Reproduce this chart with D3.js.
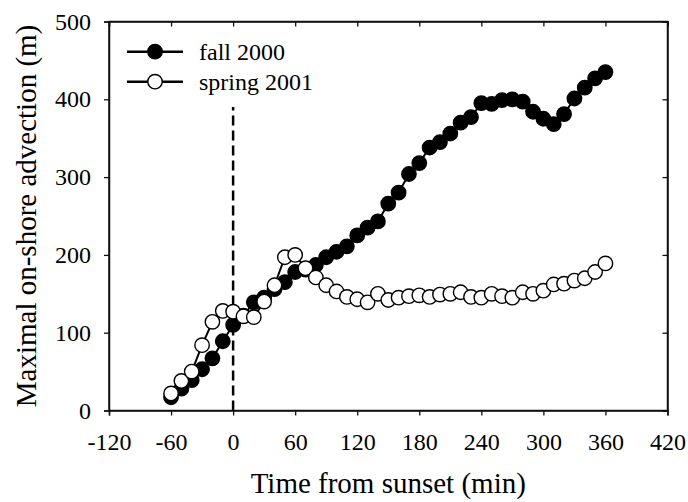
<!DOCTYPE html>
<html><head><meta charset="utf-8">
<script src="https://cdn.jsdelivr.net/npm/d3@7"></script>
<style>body{margin:0;background:#fff}</style>
</head><body>
<svg id="c" width="688" height="502"></svg>
<script>
const times = [-60,-50,-40,-30,-20,-10,0,10,20,30,40,50,60,70,80,90,100,110,120,130,140,150,160,170,180,190,200,210,220,230,240,250,260,270,280,290,300,310,320,330,340,350,360];
const fall2000 = [17,28,39,53,67,89,110,122,139,145,156,165,178,181,187,197,204,211,225,235,243,266,280,304,318,338,345,356,370,377,395,394,399,400,397,384,375,368,381,401,415,427,435];
const spring2001 = [22,38,50,84,114,128,127,121,120,140,161,197,200,183,171,161,153,146,143,139,150,142,145,147,148,146,149,150,152,146,145,150,147,145,152,150,154,162,163,167,170,178,189];
const xTicks = [-120,-60,0,60,120,180,240,300,360,420];
const yTicks = [0,100,200,300,400,500];
const seriesNames = ["fall 2000","spring 2001"];
const sunsetLineTop = 390;

const svg = d3.select("#c");
const x = d3.scaleLinear().domain([-120,420]).range([109,667.5]);
const y = d3.scaleLinear().domain([0,500]).range([410.5,21.5]);
const font = "'Liberation Serif','Times New Roman',serif";
const ink = "#111";
const fmt = d => String(d);

// frame
svg.append("rect").attr("x",x(-120)).attr("y",y(500)).attr("width",x(420)-x(-120)).attr("height",y(0)-y(500))
  .attr("fill","none").attr("stroke",ink).attr("stroke-width",1.5);

// bottom axis
const xb = svg.append("g").attr("transform",`translate(0,${y(0)})`)
  .call(d3.axisBottom(x).tickValues(xTicks).tickSize(5).tickPadding(17).tickFormat(fmt));
// left axis
const yl = svg.append("g").attr("transform",`translate(${x(-120)},0)`)
  .call(d3.axisLeft(y).tickValues(yTicks).tickSize(5).tickPadding(13).tickFormat(fmt));
// top & right inward ticks
svg.append("g").attr("transform",`translate(0,${y(500)})`)
  .call(d3.axisBottom(x).tickValues(xTicks).tickSize(5).tickFormat(""));
svg.append("g").attr("transform",`translate(${x(420)},0)`)
  .call(d3.axisLeft(y).tickValues(yTicks).tickSize(5).tickFormat(""));

svg.selectAll(".domain").attr("stroke",ink).attr("stroke-width",1.5);
svg.selectAll(".tick line").attr("stroke",ink).attr("stroke-width",1.3);
svg.selectAll(".tick text").attr("font-family",font).attr("font-size",24).attr("fill","#000");

// sunset dashed line
svg.append("line").attr("x1",x(0)).attr("x2",x(0)).attr("y1",y(0)).attr("y2",y(sunsetLineTop))
  .attr("stroke","#000").attr("stroke-width",2.5).attr("stroke-dasharray","10,5");

const line = d3.line().x((d,i)=>x(times[i])).y(d=>y(d));
function drawSeries(vals, filled){
  svg.append("path").datum(vals).attr("d",line).attr("fill","none").attr("stroke","#000").attr("stroke-width",2);
  svg.append("g").selectAll("circle").data(vals).join("circle")
    .attr("cx",(d,i)=>x(times[i])).attr("cy",d=>y(d)).attr("r",7.2)
    .attr("fill",filled?"#000":"#fff").attr("stroke","#000").attr("stroke-width",1.4);
}
drawSeries(fall2000,true);
drawSeries(spring2001,false);

// legend
const leg = svg.append("g");
seriesNames.forEach((name,i)=>{
  const ly = 51.7 + i*30;
  leg.append("line").attr("x1",127).attr("x2",183).attr("y1",ly).attr("y2",ly).attr("stroke","#000").attr("stroke-width",2.5);
  leg.append("circle").attr("cx",155).attr("cy",ly).attr("r",7.2).attr("fill",i===0?"#000":"#fff").attr("stroke","#000").attr("stroke-width",1.4);
  leg.append("text").attr("x",199).attr("y",ly+8).attr("font-family",font).attr("font-size",24).text(name);
});

// axis titles
svg.append("text").attr("x",(x(-120)+x(420))/2).attr("y",493).attr("text-anchor","middle")
  .attr("font-family",font).attr("font-size",29).text("Time from sunset (min)");
svg.append("text").attr("transform",`translate(36,${(y(0)+y(500))/2}) rotate(-90)`).attr("text-anchor","middle")
  .attr("font-family",font).attr("font-size",29).text("Maximal on-shore advection (m)");
</script>
</body></html>
